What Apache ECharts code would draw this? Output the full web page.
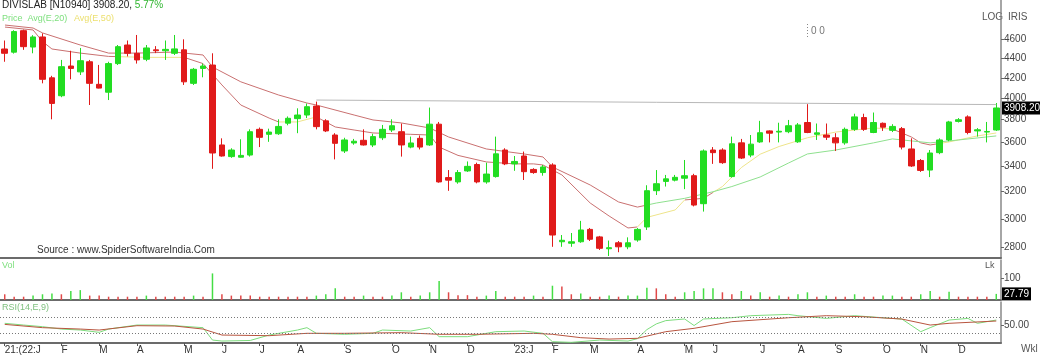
<!DOCTYPE html>
<html><head><meta charset="utf-8">
<script src="https://cdn.jsdelivr.net/npm/echarts@6/dist/echarts.min.js"></script>
<style>html,body{margin:0;padding:0;background:#fff}#c{width:1040px;height:356px}</style>
</head><body><div id="c"></div>
<script>
// ---- data ----
const opens  = [4499,4465,4700,4520,4630,4200,4024,4320,4260,4364,4135,4058,4345,4542,4453,4390,4490,4480,4453,4490,4145,4295,4330,3578,3480,3475,3493,3714,3670,3675,3769,3810,3843,3926,3790,3664,3527,3595,3618,3578,3640,3708,3693,3560,3635,3578,3760,3310,3276,3363,3415,3276,3318,3535,3420,3485,3375,3350,3411,2840,2830,2840,2925,2873,2793,2833,2806,2852,2942,3208,3280,3290,3305,3325,3110,3535,3535,3318,3596,3493,3604,3700,3690,3693,3605,3775,3670,3664,3640,3596,3714,3820,3686,3768,3705,3720,3544,3448,3370,3513,3621,3785,3826,3700,3690,3708];
const closes = [4453,4690,4524,4630,4185,3951,4313,4295,4375,4145,4098,4345,4524,4453,4383,4510,4480,4495,4500,4160,4286,4320,3510,3485,3535,3490,3693,3644,3690,3740,3813,3843,3920,3738,3700,3592,3621,3610,3578,3650,3714,3746,3578,3595,3560,3760,3276,3290,3350,3400,3276,3338,3503,3420,3440,3357,3350,3395,2886,2850,2840,2921,2857,2796,2800,2806,2833,2925,3208,3262,3300,3312,3325,3100,3527,3513,3430,3588,3468,3585,3684,3680,3697,3746,3753,3686,3683,3645,3596,3714,3826,3714,3775,3733,3740,3560,3403,3367,3510,3621,3780,3800,3686,3710,3695,3908.2];
const lows   = [4364,4450,4490,4453,4145,3804,4010,4185,4228,3936,4095,3983,4330,4420,4345,4370,4455,4383,4435,4129,4129,4205,3380,3480,3470,3472,3480,3560,3605,3665,3750,3680,3815,3714,3690,3457,3510,3580,3573,3560,3620,3690,3480,3550,3540,3570,3270,3207,3262,3355,3265,3262,3310,3410,3364,3291,3340,3325,2806,2806,2806,2833,2845,2785,2745,2770,2790,2840,2921,3175,3240,3280,3220,3090,3052,3420,3420,3310,3460,3475,3596,3600,3600,3680,3596,3680,3621,3621,3527,3580,3700,3700,3680,3700,3690,3540,3395,3355,3314,3500,3610,3775,3670,3650,3600,3700];
const highs  = [4591,4705,4712,4650,4670,4220,4383,4480,4510,4383,4331,4364,4542,4591,4652,4542,4530,4591,4652,4604,4300,4345,4453,3635,3550,3627,3714,3730,3720,3804,3830,3905,3950,3968,3805,3680,3640,3630,3714,3675,3753,3804,3766,3650,3660,3912,3780,3370,3370,3440,3430,3430,3650,3550,3485,3522,3385,3411,3425,2886,2900,2985,2935,2880,2848,2845,2870,2935,3250,3370,3331,3331,3452,3340,3540,3560,3550,3650,3630,3664,3790,3705,3773,3798,3770,3944,3766,3766,3680,3730,3855,3855,3866,3775,3760,3735,3635,3460,3535,3635,3790,3815,3840,3725,3780,3955];
const volumes = [26,15,15,20,26,30,26,41,45,20,20,15,15,15,15,20,15,15,15,15,20,15,121,26,20,20,20,15,15,15,15,15,15,20,26,53,15,15,20,15,15,20,35,15,20,35,86,35,22,22,15,20,41,15,15,15,20,15,65,61,26,30,15,15,20,15,20,20,56,53,26,15,35,41,53,53,35,26,41,20,35,15,20,15,26,35,15,20,15,15,26,15,15,20,20,15,15,26,41,15,38,15,15,15,15,27.79];
// EMA lines: [week index, value]
const emaFast = [[0,4741],[3,4708],[4,4580],[5,4499],[8,4455],[11,4420],[15,4410],[19,4410],[21,4345],[23,4129],[25,3936],[28,3815],[29,3780],[31,3780],[33,3826],[35,3735],[37,3708],[39,3682],[43,3670],[45,3664],[46,3560],[48,3490],[51,3436],[54,3420],[56,3420],[57,3411],[59,3331],[62,3115],[64,3020],[66,2935],[67,2942],[68,3010],[71,3064],[72,3138],[74,3150],[76,3240],[78,3390],[80,3500],[82,3565],[85,3640],[88,3690],[92,3726],[94,3717],[96,3647],[97,3596],[98,3578],[100,3604],[103,3656],[105,3682]];
const emaSlow = [[0,4764],[3,4730],[4,4675],[8,4542],[11,4455],[14,4455],[18,4466],[21,4435],[22,4310],[25,4160],[29,4031],[32,3955],[33,3936],[37,3843],[39,3798],[42,3771],[45,3726],[47,3647],[51,3544],[55,3502],[57,3477],[58,3395],[62,3252],[65,3123],[67,3085],[69,3115],[72,3150],[75,3200],[77,3240],[80,3315],[83,3427],[85,3502],[88,3535],[92,3596],[94,3630],[98,3596],[101,3621],[105,3656]];
const rsiLine = [[0,52.7],[2,50.6],[4,48.6],[6,45.7],[8,44.5],[10,41.7],[11,45.7],[14,50.6],[17,50.6],[21,47.4],[22,32.3],[23,31.1],[26,31.8],[28,38.4],[31,44.5],[32,47.4],[33,40.5],[36,39.3],[39,40.5],[40,44.5],[43,43.3],[45,47.4],[46,36.4],[49,36.4],[52,42.5],[55,43.3],[57,40.5],[58,30.3],[60,29.5],[63,32.3],[66,31.1],[67,34],[68,45],[69,52],[70,56],[72,58],[73,50],[74,58],[77,59.5],[79,62],[83,63.6],[84,62],[87,58.7],[90,62],[93,59.5],[95,57.9],[97,42.5],[98,47.4],[100,56.7],[102,58.7],[103,52.7],[105,56.7]];
const rsiSignal = [[0,51.4],[4,47.4],[8,45.7],[10,44.5],[14,49.8],[18,49.4],[21,45.7],[23,38.4],[28,37.6],[32,40.5],[36,40.5],[42,41.3],[46,39.3],[50,39.3],[56,40.5],[58,39.3],[61,35.2],[64,33.5],[67,34.4],[70,42.5],[73,46.6],[77,54.7],[83,59.5],[87,62],[91,60.7],[95,57.9],[98,50.6],[100,52.7],[105,55.5]];
const trendLine = [[33,3983],[105,3940]];
const rsiLevels = [60,40];
const priceTicks = [2800,3000,3200,3400,3600,3800,4000,4200,4400,4600];
const volTicks = [100];
const rsiTicks = [50];
const xTickIdx  = [0,6,10,14,19,23,27,31,36,41,45,49,54,58,62,67,72,75,80,84,88,93,97,101];
const xTickText = ['21:(22:J','F','M','A','M','J','J','A','S','O','N','D','23:J','F','M','A','M','J','J','A','S','O','N','D'];
// segment colouring of the averages (week index ranges)
const fastRed = [[0,12],[19,29],[33,67],[72,75],[94,99]];
const slowRed = [[0,68]];

// ---- build ----
const N = closes.length;
const cats = [];
for (let i = 0; i < N; i++) { const d = new Date(Date.UTC(2021, 11, 27 + 7 * i)); cats.push(d.toISOString().slice(0, 10)); }
const candles = opens.map((o, i) => [o, closes[i], lows[i], highs[i]]);
const GREEN = '#22dd22', RED = '#e01a1a';
// volume bar colour: green when volume rose from the previous week, red when it fell
let prevUp = false;
const volData = volumes.map((v, i) => {
  let up = i === 0 ? false : (v > volumes[i - 1] ? true : (v < volumes[i - 1] ? false : prevUp));
  prevUp = up;
  return { value: v, itemStyle: { color: up ? '#44dd44' : '#e04848' } };
});
const tickMap = {}; xTickIdx.forEach((k, j) => tickMap[k] = xTickText[j]);
function pieces(redRanges, redColor, otherColor) {
  const out = []; let cur = 0;
  redRanges.forEach(r => { if (r[0] > cur) out.push({ gte: cur, lt: r[0], color: otherColor }); out.push({ gte: r[0], lt: r[1], color: redColor }); cur = r[1]; });
  if (cur < N + 1) out.push({ gte: cur, lte: N + 1, color: otherColor });
  return out;
}
const FONT = 'Liberation Sans, Arial, sans-serif';
const gridL = 0, gridR = 39;
const chart = echarts.init(document.getElementById('c'));
const baseX = (gi, showLabel) => ({
  type: 'category', gridIndex: gi, data: cats, boundaryGap: true,
  axisLine: { show: true, lineStyle: { color: '#6b6b6b', width: 2 } },
  axisTick: { show: showLabel, alignWithLabel: true, length: 3, interval: (i) => tickMap[i] !== undefined, lineStyle: { color: '#555' } },
  axisLabel: { show: showLabel, interval: (i) => tickMap[i] !== undefined, formatter: (v, i) => tickMap[i] || '', align: 'left', margin: 2, fontSize: 10, color: '#333', fontFamily: FONT },
  splitLine: { show: false }
});
const yLab = { fontSize: 10, color: '#444', fontFamily: FONT, margin: 3 };
const lastLabel = (txt) => ({ show: true, position: 'end', distance: 1, formatter: txt, backgroundColor: '#000', color: '#fff', padding: [2, 2, 1, 2], fontSize: 10, fontFamily: FONT });
chart.setOption({
  animation: false,
  backgroundColor: '#fff',
  grid: [
    { left: gridL, right: gridR, top: 0, height: 258 },
    { left: gridL, right: gridR, top: 260, height: 40 },
    { left: gridL, right: gridR, top: 302, height: 41 }
  ],
  xAxis: [baseX(0, false), baseX(1, false), baseX(2, true)],
  yAxis: [
    { type: 'log', logBase: 10, gridIndex: 0, position: 'right', min: 2732, max: 5057, scale: true,
      axisLine: { show: true, lineStyle: { color: '#888', width: 1.5 } },
      axisTick: { show: true, length: 3, customValues: priceTicks, lineStyle: { color: '#666' } },
      axisLabel: Object.assign({ customValues: priceTicks, formatter: v => String(Math.round(v)) }, yLab),
      splitLine: { show: false } },
    { type: 'value', gridIndex: 1, position: 'right', min: 0, max: 182,
      axisLine: { show: true, lineStyle: { color: '#888', width: 1.5 } },
      axisTick: { show: true, length: 3, customValues: volTicks, lineStyle: { color: '#666' } },
      axisLabel: Object.assign({ customValues: volTicks }, yLab),
      splitLine: { show: false } },
    { type: 'value', gridIndex: 2, position: 'right', min: 28.7, max: 78.7,
      axisLine: { show: true, lineStyle: { color: '#888', width: 1.5 } },
      axisTick: { show: true, length: 3, customValues: rsiTicks, lineStyle: { color: '#666' } },
      axisLabel: Object.assign({ customValues: rsiTicks, formatter: v => v.toFixed(2) }, yLab),
      splitLine: { show: false } }
  ],
  visualMap: [
    { type: 'piecewise', show: false, seriesIndex: 1, dimension: 0, pieces: pieces(fastRed, '#c97070', '#eee48a') },
    { type: 'piecewise', show: false, seriesIndex: 2, dimension: 0, pieces: pieces(slowRed, '#c97070', '#8ee08e') }
  ],
  series: [
    { type: 'candlestick', xAxisIndex: 0, yAxisIndex: 0, data: candles, barWidth: 6,
      itemStyle: { color: GREEN, color0: RED, borderColor: GREEN, borderColor0: RED, borderWidth: 1 },
      markLine: { silent: true, symbol: 'none', animation: false, clip: false,
        data: [
          [{ coord: [cats[trendLine[0][0]], trendLine[0][1]] }, { coord: [cats[trendLine[1][0]], trendLine[1][1]] }],
          { yAxis: closes[N - 1], lineStyle: { color: 'rgba(0,0,0,0)', width: 0 }, label: lastLabel(closes[N - 1].toFixed(2)) }
        ],
        lineStyle: { color: '#b8b8b8', width: 1, type: 'solid' }, label: { show: false } } },
    { type: 'line', xAxisIndex: 0, yAxisIndex: 0, data: emaFast, symbol: 'none', lineStyle: { width: 1 }, z: 1 },
    { type: 'line', xAxisIndex: 0, yAxisIndex: 0, data: emaSlow, symbol: 'none', lineStyle: { width: 1 }, z: 1 },
    { type: 'bar', xAxisIndex: 1, yAxisIndex: 1, data: volData, barWidth: 1.5,
      markLine: { silent: true, symbol: 'none', clip: false, data: [{ yAxis: volumes[N - 1] }], lineStyle: { color: 'rgba(0,0,0,0)', width: 0 },
        label: lastLabel(volumes[N - 1].toFixed(2)) } },
    { type: 'line', xAxisIndex: 2, yAxisIndex: 2, data: rsiLine, symbol: 'none', lineStyle: { width: 1, color: '#7ddc7d' },
      markLine: { silent: true, symbol: 'none', data: rsiLevels.map(v => ({ yAxis: v })), lineStyle: { color: '#777', type: [1, 2], width: 1 }, label: { show: false } } },
    { type: 'line', xAxisIndex: 2, yAxisIndex: 2, data: rsiSignal, symbol: 'none', lineStyle: { width: 1, color: '#b8553f' } }
  ],
  graphic: [
    { type: 'text', left: 2, top: 0, style: { rich: { a: { fill: '#222', fontSize: 10, fontFamily: FONT }, b: { fill: '#2fb52f', fontSize: 10, fontFamily: FONT } }, text: '{a|DIVISLAB [N10940] 3908.20, }{b|5.77%}' } },
    { type: 'text', left: 2, top: 13, style: { rich: { g: { fill: '#7fe07f', fontSize: 9, fontFamily: FONT }, y: { fill: '#ece070', fontSize: 9, fontFamily: FONT } }, text: '{g|Price  Avg(E,20)}  {y|Avg(E,50)}' } },
    { type: 'text', left: 982, top: 12, style: { text: 'LOG', fill: '#555', fontSize: 10, fontFamily: FONT } },
    { type: 'text', left: 1008, top: 12, style: { text: 'IRIS', fill: '#555', fontSize: 10, fontFamily: FONT } },
    { type: 'text', left: 811, top: 26, style: { text: '0 0', fill: '#777', fontSize: 10, fontFamily: FONT } },
    { type: 'line', shape: { x1: 807.5, y1: 24, x2: 807.5, y2: 38 }, style: { stroke: '#888', lineDash: [1, 2] } },
    { type: 'text', left: 37, top: 245, style: { text: 'Source : www.SpiderSoftwareIndia.Com', fill: '#333', fontSize: 10, fontFamily: FONT } },
    { type: 'text', left: 2, top: 261, style: { text: 'Vol', fill: '#7fe07f', fontSize: 9, fontFamily: FONT } },
    { type: 'text', left: 985, top: 261, style: { text: 'Lk', fill: '#555', fontSize: 9, fontFamily: FONT } },
    { type: 'text', left: 2, top: 303, style: { text: 'RSI(14,E,9)', fill: '#7fc07f', fontSize: 9, fontFamily: FONT } },
    { type: 'text', left: 1021, top: 344, style: { text: 'Wkl', fill: '#555', fontSize: 10, fontFamily: FONT } }
  ]
});
</script></body></html>
